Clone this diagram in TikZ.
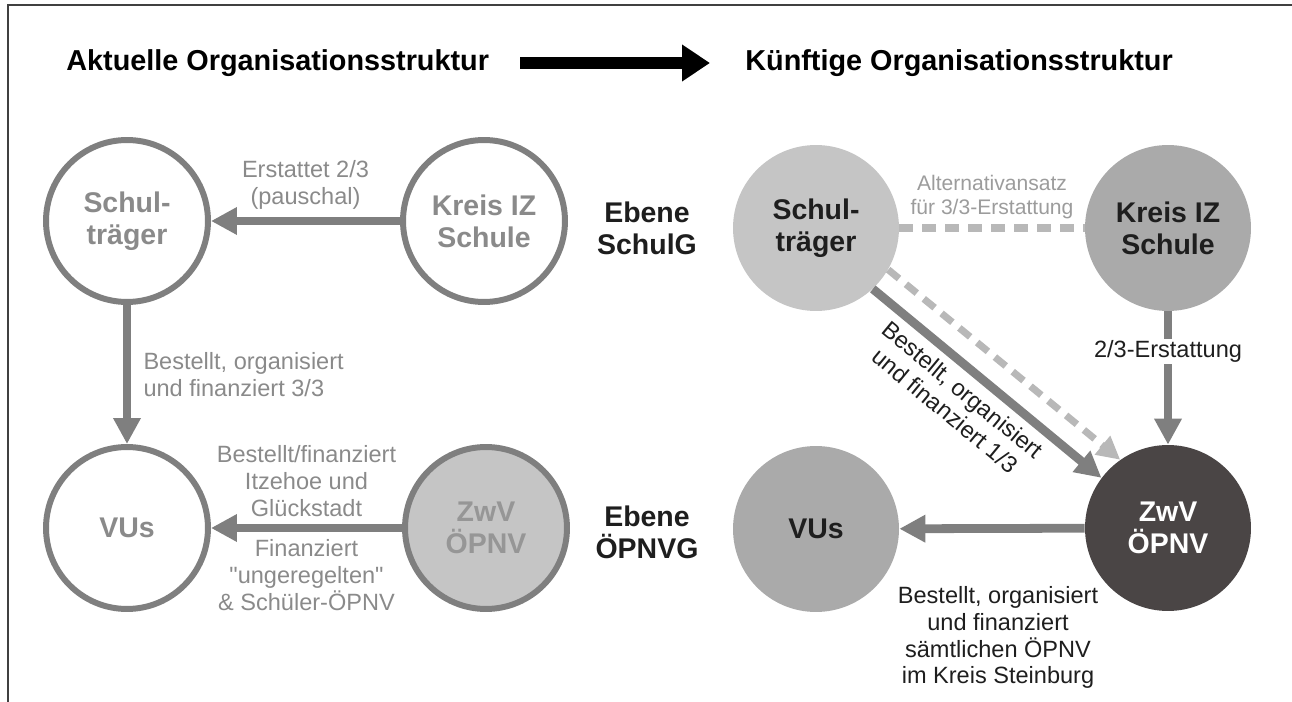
\documentclass[tikz,border=0pt]{standalone}
\usepackage{fontspec}
\setmainfont{Liberation Sans}
\usetikzlibrary{positioning,arrows.meta}

\definecolor{linegray}{HTML}{7F7F7F}
\definecolor{txtgray}{HTML}{8A8A8A}
\definecolor{lightfill}{HTML}{C5C5C5}
\definecolor{midfill}{HTML}{AAAAAA}
\definecolor{darkfill}{HTML}{4A4545}
\definecolor{dashgray}{HTML}{B8B8B8}
\definecolor{inkblack}{HTML}{1E1E1E}

\newcommand{\headtxt}{\fontsize{16.4pt}{18pt}\selectfont\bfseries}
\newcommand{\circtxt}{\fontsize{16.2pt}{18.2pt}\selectfont\bfseries}
\newcommand{\lbltxt}{\fontsize{13.4pt}{15.3pt}\selectfont}
\newcommand{\smalltxt}{\fontsize{12pt}{13.4pt}\selectfont}

\tikzset{
  oldorg/.style={circle, draw=linegray, line width=3.4pt, fill=white,
    minimum size=3.24cm, align=center, text=txtgray, font=\circtxt},
  neworg/.style={circle, minimum size=3.32cm, align=center,
    text=inkblack, font=\circtxt},
  flow/.style={draw=linegray, line width=4.2pt,
    -{Triangle[length=0.52cm,width=0.52cm]}},
  altflow/.style={draw=dashgray, line width=4pt,
    dash pattern=on 0.28cm off 0.18cm},
  oldlbl/.style={font=\lbltxt, text=txtgray, align=center},
  newlbl/.style={font=\lbltxt, text=inkblack, align=center}
}

\begin{document}
\begin{tikzpicture}[x=0.02cm,y=-0.02cm]
  \useasboundingbox (0,0) rectangle (1292,702);
  \draw [line width=1pt, inkblack!85] (8,702) -- (8,5) -- (1292,5);

  % Ueberschrift
  \node (alt) [anchor=west, inner sep=0pt, font=\headtxt] at (66,63) {Aktuelle Organisationsstruktur};
  \node (neu) [anchor=west, inner sep=0pt, font=\headtxt] at (745,63) {Künftige Organisationsstruktur};
  \draw [line width=6.8pt, -{Triangle[length=0.56cm,width=0.7cm]},
         shorten <=0.62cm, shorten >=0.7cm] (alt) -- (neu);

  % aktuelle Struktur
  \node (stL) [oldorg] at (127,221) {Schul-\\träger};
  \node (kreisL) [oldorg] at (484,221) {Kreis IZ\\Schule};
  \node (vuL) [oldorg] at (127,528) {VUs};
  \node (zwvL) [oldorg, fill=lightfill, text=txtgray!90] at (486,528) {ZwV\\ÖPNV};

  \draw [flow] (kreisL) -- node[oldlbl, above=1pt] {Erstattet 2/3\\(pauschal)} (stL);
  \draw [flow] (stL) -- node[oldlbl, right=0.14cm, align=left] {Bestellt, organisiert\\und finanziert 3/3} (vuL);
  \draw [flow] (zwvL) -- node[oldlbl, above=1pt] {Bestellt/finanziert\\Itzehoe und\\Glückstadt}
                         node[oldlbl, below=1pt] {Finanziert\\\textquotedbl ungeregelten\textquotedbl\\\& Schüler-ÖPNV} (vuL);

  % Ebenen
  \node (ebschul) [font=\circtxt, align=center, text=inkblack] at (647,228) {Ebene\\SchulG};
  \node (ebopnv) [font=\circtxt, align=center, text=inkblack] at (647,532) {Ebene\\ÖPNVG};

  % kuenftige Struktur
  \node (stR) [neworg, fill=lightfill] at (816,228) {Schul-\\träger};
  \node (kreisR) [neworg, fill=midfill] at (1168,228) {Kreis IZ\\Schule};
  \node (vuR) [neworg, fill=midfill] at (816,529) {VUs};
  \node (zwvR) [neworg, fill=darkfill, text=white] at (1168,528) {ZwV\\ÖPNV};

  \draw [altflow] (stR) -- node[font=\smalltxt, text=txtgray!85, align=center, above=0pt] {Alternativansatz\\für 3/3-Erstattung} (kreisR);
  \draw [altflow, -{Triangle[length=0.46cm,width=0.46cm]}] (stR.-30) -- (zwvR.125);
  \draw [flow, line width=5pt] (stR.-47) -- node[newlbl, pos=0.45, sloped, below=1pt] {Bestellt, organisiert\\und finanziert 1/3} (zwvR.143);
  \draw [flow, line width=5pt] (kreisR) -- node[newlbl, pos=0.3, fill=white, inner sep=1pt] {2/3-Erstattung} (zwvR);
  \draw [flow, line width=5pt] (zwvR) -- node[newlbl, below=0.95cm, xshift=0.12cm] {Bestellt, organisiert\\und finanziert\\sämtlichen ÖPNV\\im Kreis Steinburg} (vuR);

\end{tikzpicture}
\end{document}
